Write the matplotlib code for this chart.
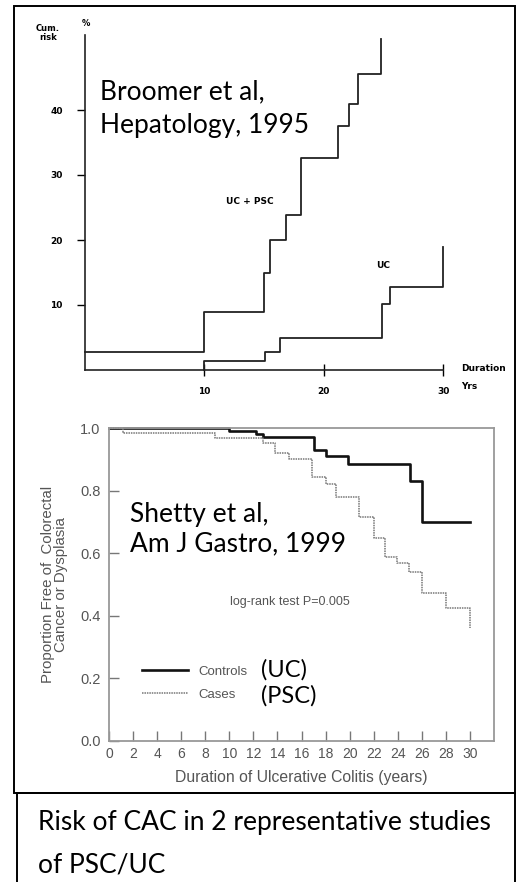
import matplotlib
matplotlib.use("Agg")
import matplotlib.pyplot as plt
from matplotlib.patches import Rectangle

# ── data ─────────────────────────────────────────────────────────────────────
# Broomer et al (top): cumulative risk (%) vs duration (yrs), step curves
psc_years = [0, 10, 15, 15.5, 16.8, 18.1, 21.2, 22.1, 22.9, 24.8]
psc_risk = [2.8, 8.9, 15, 20, 23.8, 32.6, 37.5, 40.9, 45.5, 51]
uc_years = [10, 10, 15.1, 16.3, 24.9, 25.5, 30]
uc_risk = [0, 1.4, 2.8, 4.9, 10.1, 12.8, 19]
top_yticks = [10, 20, 30, 40]
top_xticks = [10, 20, 30]

# Shetty et al (bottom): proportion free of cancer / dysplasia
ctrl_years = [0, 10, 12.2, 12.8, 17, 18, 19.9, 25, 26, 30]
ctrl_free = [1.0, 0.992, 0.98, 0.97, 0.93, 0.912, 0.885, 0.83, 0.70, 0.70]
case_years = [0, 1.2, 8.8, 12.8, 13.8, 15, 16.9, 18, 18.9, 20.8, 22, 22.9,
              23.9, 24.9, 26, 28, 30]
case_free = [1.0, 0.985, 0.967, 0.952, 0.92, 0.9, 0.845, 0.82, 0.778, 0.715,
             0.65, 0.589, 0.57, 0.541, 0.472, 0.425, 0.36]
bot_xticks = list(range(0, 31, 2))
bot_yticks = [0.0, 0.2, 0.4, 0.6, 0.8, 1.0]

W, H = 516, 882
BIG = ["Lato", "DejaVu Sans"]
GRAY = "#555555"


def px(x, y):
    """pixel position (from top-left) -> figure fraction"""
    return x / W, 1 - y / H


def big_text(x, y, s, size=19):
    fig.text(*px(x, y), s, fontsize=size, family=BIG, ha="left", va="baseline")


fig = plt.figure(figsize=(W / 100, H / 100), dpi=100)

# ── outer boxes ──────────────────────────────────────────────────────────────
fig.patches.append(Rectangle(px(14, 793), 501 / W, 787 / H, transform=fig.transFigure,
                             fill=False, ec="black", lw=1.4))
fig.patches.append(Rectangle(px(17, 885), 498 / W, 92 / H, transform=fig.transFigure,
                             fill=False, ec="black", lw=1.4))

# ── 1. TOP CHART (Broomer) ───────────────────────────────────────────────────
ax1 = fig.add_axes([85 / W, 1 - 370 / H, 418 / W, 338 / H])
ax1.set_xlim(0, 35)
ax1.set_ylim(0, 52)
for s in ["top", "right"]:
    ax1.spines[s].set_visible(False)
ax1.spines["left"].set_bounds(0, 51.5)
ax1.spines["bottom"].set_bounds(0, 30)
for s in ["left", "bottom"]:
    ax1.spines[s].set_linewidth(1.2)
    ax1.spines[s].set_color("#222222")

ax1.step(psc_years, psc_risk, where="post", color="#222222", lw=1.3, clip_on=False)
ax1.step(uc_years, uc_risk, where="post", color="#222222", lw=1.3, clip_on=False)

ax1.set_yticks(top_yticks)
ax1.set_yticklabels([str(t) for t in top_yticks], fontsize=6.5, fontweight="bold")
ax1.set_xticks(top_xticks)
ax1.set_xticklabels([str(t) for t in top_xticks], fontsize=6.5, fontweight="bold")
ax1.tick_params(axis="y", direction="out", length=6, width=1, pad=10)
ax1.tick_params(axis="x", direction="inout", length=8, width=1, pad=8)

ax1.text(-3.1, 50.5, "Cum.\nrisk", fontsize=6, fontweight="bold", ha="center",
         va="bottom", linespacing=0.9, clip_on=False)
ax1.text(0.1, 52.6, "%", fontsize=6, fontweight="bold", ha="center", va="bottom",
         clip_on=False)
ax1.text(13.8, 26, "UC + PSC", fontsize=6.5, fontweight="bold", ha="center", va="center")
ax1.text(25, 16, "UC", fontsize=6.5, fontweight="bold", ha="center", va="center")
ax1.text(31.5, 0.2, "Duration", fontsize=6.5, fontweight="bold", ha="left", va="center",
         clip_on=False)
ax1.text(31.5, -2.6, "Yrs", fontsize=6.5, fontweight="bold", ha="left", va="center",
         clip_on=False)

big_text(100, 99, "Broomer et al,")
big_text(100, 133, "Hepatology, 1995")

# ── 2. BOTTOM CHART (Shetty) ─────────────────────────────────────────────────
ax2 = fig.add_axes([109 / W, 1 - 741 / H, 385 / W, 313 / H])
ax2.set_xlim(0, 32)
ax2.set_ylim(0, 1.0)
for s in ax2.spines.values():
    s.set_color("#999999")
    s.set_linewidth(1.3)

ax2.step(ctrl_years, ctrl_free, where="post", color="#111111", lw=1.9, clip_on=False,
         label="Controls")
ax2.step(case_years, case_free, where="post", color="#777777", lw=1.1, ls=(0, (1, 0.6)),
         clip_on=False, label="Cases")

ax2.set_xticks(bot_xticks)
ax2.set_xticklabels([str(t) for t in bot_xticks], fontsize=10, color=GRAY,
                    family="Liberation Sans")
ax2.set_yticks(bot_yticks)
ax2.set_yticklabels([f"{t:.1f}" for t in bot_yticks], fontsize=10.5, color=GRAY,
                    family="Liberation Sans")
ax2.tick_params(direction="in", length=7, width=1, color="#777777")
ax2.tick_params(axis="x", pad=4)
ax2.tick_params(axis="y", pad=6)

ax2.set_xlabel("Duration of Ulcerative Colitis (years)", fontsize=11.3, color=GRAY,
               family="Liberation Sans", labelpad=7)
ax2.set_ylabel("Proportion Free of  Colorectal\nCancer or Dysplasia", fontsize=10.8,
               color=GRAY, family="Liberation Sans", linespacing=0.9, labelpad=9)

ax2.text(15, 0.445, "log-rank test P=0.005", fontsize=9, color=GRAY,
         family="Liberation Sans", ha="center", va="center")

leg = ax2.legend(loc="lower left", bbox_to_anchor=(0.055, 0.09), frameon=False,
                 handlelength=3.5, labelspacing=0.85,
                 prop={"family": "Liberation Sans", "size": 9.5})
for t in leg.get_texts():
    t.set_color(GRAY)

big_text(261, 677, "(UC)", 17)
big_text(261, 703, "(PSC)", 17)

big_text(130, 522, "Shetty et al,")
big_text(130, 551, "Am J Gastro, 1999")

# ── 3. CAPTION ───────────────────────────────────────────────────────────────
big_text(38, 830, "Risk of CAC in 2 representative studies")
big_text(38, 872, "of PSC/UC")

plt.savefig("out.png", dpi=100)
